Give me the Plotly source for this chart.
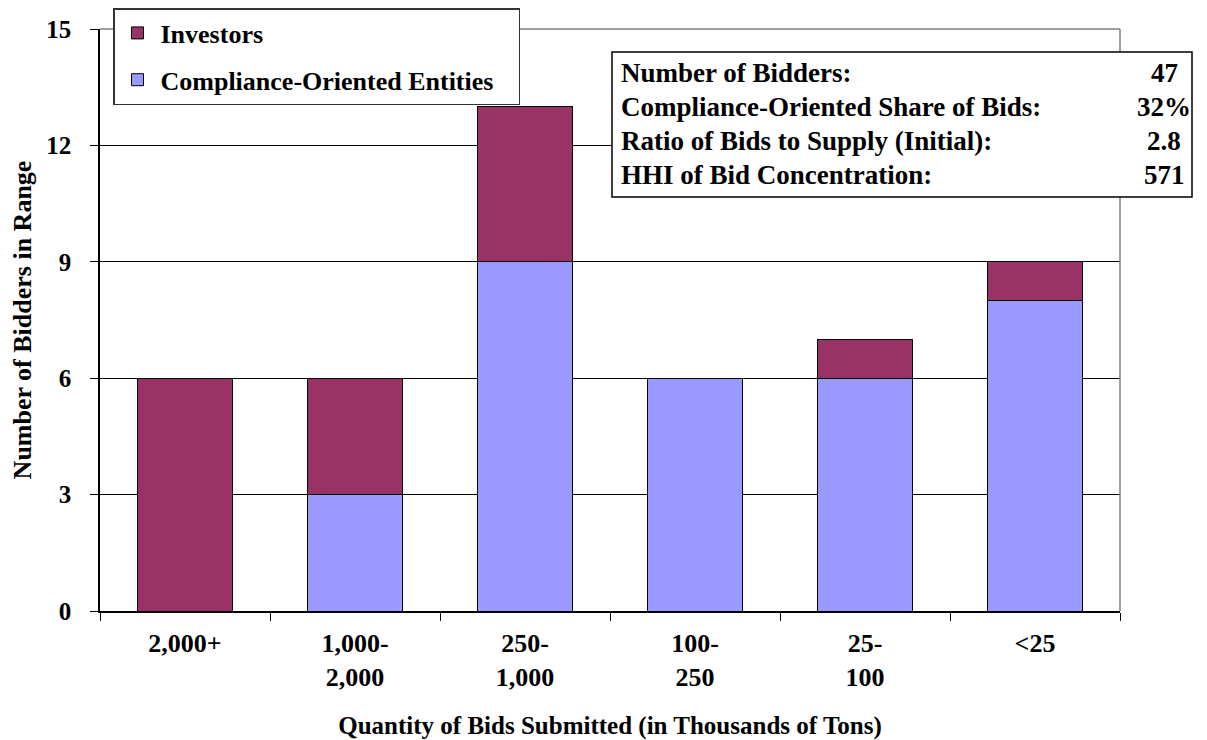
import plotly.graph_objects as go

categories = ["2,000+", "1,000-2,000", "250-1,000", "100-250", "25-100", "<25"]
tick_labels = ["2,000+", "1,000-<br>2,000", "250-<br>1,000", "100-<br>250", "25-<br>100", "&lt;25"]
compliance = [0, 3, 9, 6, 6, 8]
investors = [6, 3, 4, 0, 1, 1]
stats_labels = ["Number of Bidders:", "Compliance-Oriented Share of Bids:",
                "Ratio of Bids to Supply (Initial):", "HHI of Bid Concentration:"]
stats_values = ["47", "32%", "2.8", "571"]

FONT = "Liberation Serif"
OFF = 8  # page body margin
W, H = 1207 - OFF, 740 - OFF
L, R, T, B = 100 - OFF, 1120 - OFF, 29 - OFF, 611 - OFF

def px(x):
    return (x - OFF - L) / (R - L)

def py(y):
    return (B - (y - OFF)) / (B - T)

def f(size=20):
    return dict(family=FONT, size=size, color="black")

def b(s):
    return "<b>" + s + "</b>"

fig = go.Figure()
fig.add_trace(go.Bar(x=categories, y=compliance,
                     name=b("Compliance-Oriented Entities") + "&nbsp;&nbsp;&nbsp;",
                     marker=dict(color="#9999FF", line=dict(color="black", width=1)),
                     legendgroup="c", legendrank=2))
fig.add_trace(go.Bar(x=categories, y=investors, name=b("Investors"),
                     marker=dict(color="#993366", line=dict(color="black", width=1)),
                     legendgroup="i", legendrank=1))

annotations = []
row_y = [73, 107, 141, 175]
for lab, val, yy in zip(stats_labels, stats_values, row_y):
    annotations.append(dict(text=b(lab), x=px(619), y=py(yy), xref="paper", yref="paper",
                            xanchor="left", yanchor="middle", showarrow=False, font=f(27)))
    annotations.append(dict(text=b(val), x=px(1164), y=py(yy), xref="paper", yref="paper",
                            xanchor="center", yanchor="middle", showarrow=False, font=f(27)))

shapes = [
    dict(type="line", xref="paper", yref="paper", x0=0, x1=1, y0=1, y1=1,
         line=dict(color="#808080", width=1.5), layer="above"),
    dict(type="line", xref="paper", yref="paper", x0=1, x1=1, y0=0, y1=1,
         line=dict(color="#808080", width=1.5), layer="above"),
    dict(type="rect", xref="paper", yref="paper", x0=px(612), x1=px(1192),
         y0=py(197), y1=py(52), fillcolor="white", line=dict(color="black", width=1.5),
         layer="above"),
]

fig.update_layout(
    width=W, height=H,
    margin=dict(l=L, r=W - R, t=T, b=H - B, autoexpand=False),
    barmode="stack", bargap=0.44,
    plot_bgcolor="white", paper_bgcolor="white",
    font=f(20),
    legend=dict(x=px(113), y=py(8), xanchor="left", yanchor="top",
                bordercolor="#333333", borderwidth=1.5, bgcolor="white",
                traceorder="grouped", tracegroupgap=10, itemwidth=36, font=f(26)),
    xaxis=dict(categoryorder="array", categoryarray=categories,
               tickvals=categories, ticktext=[b(t) for t in tick_labels],
               tickson="boundaries", ticks="outside", ticklen=8, tickcolor="black",
               showline=True, linecolor="black", linewidth=1.5, showgrid=False,
               ticklabelstandoff=8, tickfont=f(26),
               title=dict(text=b("Quantity of Bids Submitted (in Thousands of Tons)"),
                          font=f(25), standoff=32)),
    yaxis=dict(range=[0, 15], tickvals=[0, 3, 6, 9, 12, 15],
               ticktext=[b(str(v)) for v in [0, 3, 6, 9, 12, 15]],
               ticks="outside", ticklen=8,
               tickcolor="black", showline=True, linecolor="black", linewidth=1.5,
               showgrid=True, gridcolor="black", gridwidth=1, zeroline=False,
               ticklabelstandoff=14, tickfont=f(25),
               title=dict(text=b("Number of Bidders in Range"), font=f(26), standoff=38)),
    annotations=annotations,
    shapes=shapes,
)

fig.write_html("out.html")
